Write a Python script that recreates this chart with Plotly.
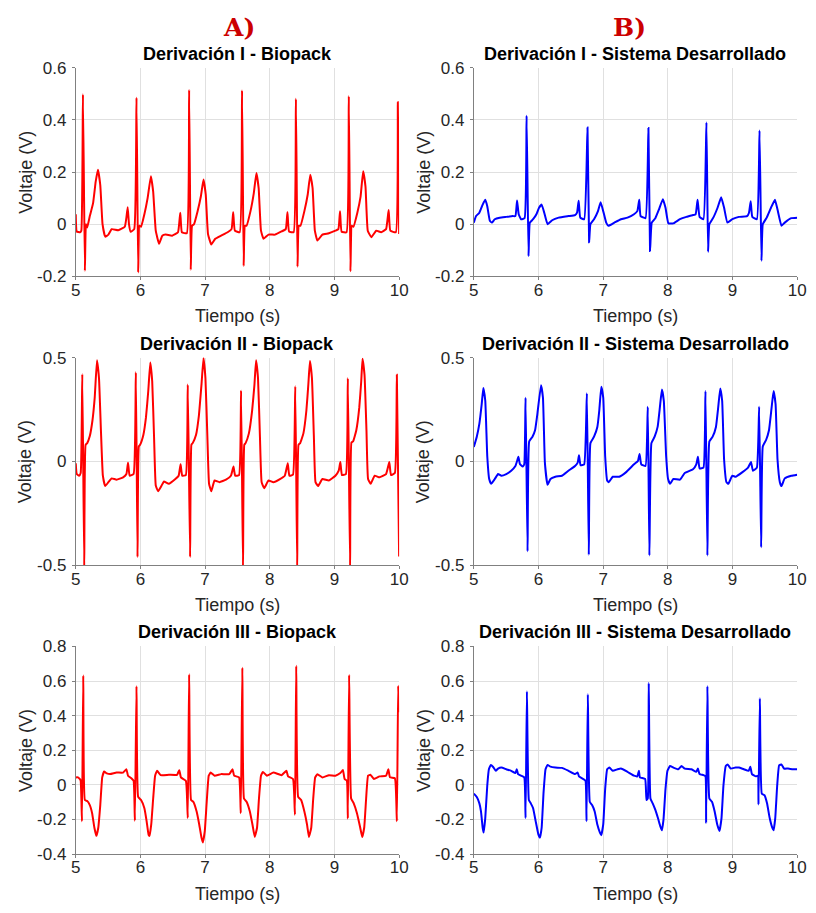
import plotly.graph_objects as go

# ECG leads, 5-10 s window: (time [s], voltage [V]) vertices of each trace
lead_I_biopack = [
    (5.000, 0.038), (5.015, -0.028), (5.066, -0.031), (5.086, -0.025), (5.111, 0.498), (5.141, -0.179),
    (5.157, 0.000), (5.177, -0.013), (5.217, 0.031), (5.268, 0.081), (5.308, 0.163), (5.343, 0.209),
    (5.379, 0.150), (5.414, 0.000), (5.455, -0.048), (5.505, -0.040), (5.556, -0.019), (5.657, -0.023),
    (5.758, -0.010), (5.783, 0.025), (5.803, 0.065), (5.823, 0.000), (5.848, -0.029), (5.904, -0.019),
    (5.939, 0.485), (5.965, -0.185), (5.985, -0.006), (6.010, -0.010), (6.061, 0.038), (6.111, 0.100),
    (6.162, 0.184), (6.197, 0.125), (6.237, -0.025), (6.288, -0.075), (6.338, -0.044), (6.389, -0.040),
    (6.490, -0.044), (6.581, -0.031), (6.616, 0.044), (6.641, -0.031), (6.717, -0.035),
    (6.753, 0.515), (6.778, -0.175), (6.798, -0.006), (6.828, 0.000), (6.884, 0.050), (6.934, 0.106),
    (6.975, 0.171), (7.010, 0.113), (7.045, -0.038), (7.096, -0.078), (7.157, -0.056), (7.247, -0.044),
    (7.348, -0.031), (7.409, -0.019), (7.434, 0.046), (7.460, -0.025), (7.535, -0.031),
    (7.571, 0.513), (7.596, -0.160), (7.616, -0.006), (7.641, -0.006), (7.702, 0.050), (7.753, 0.119),
    (7.793, 0.196), (7.828, 0.138), (7.864, -0.025), (7.904, -0.056), (7.980, -0.040), (8.081, -0.040),
    (8.182, -0.028), (8.247, -0.019), (8.273, 0.046), (8.298, -0.028), (8.369, -0.031),
    (8.404, 0.481), (8.429, -0.163), (8.449, -0.006), (8.475, -0.006), (8.535, 0.050), (8.586, 0.113),
    (8.626, 0.190), (8.662, 0.138), (8.697, -0.025), (8.737, -0.063), (8.813, -0.040), (8.914, -0.035),
    (9.015, -0.025), (9.061, -0.019), (9.086, 0.050), (9.111, -0.029), (9.187, -0.031),
    (9.222, 0.491), (9.247, -0.181), (9.268, -0.006), (9.293, -0.010), (9.354, 0.044), (9.404, 0.106),
    (9.444, 0.203), (9.480, 0.144), (9.515, -0.025), (9.571, -0.050), (9.646, -0.025), (9.722, -0.031),
    (9.798, -0.019), (9.838, 0.054), (9.864, -0.025), (9.949, -0.031),
    (9.980, 0.468), (10.000, -0.038),
]

lead_I_sistema = [
    (5.000, 0.006), (5.035, 0.031), (5.086, 0.044), (5.137, 0.075), (5.177, 0.094), (5.208, 0.069),
    (5.248, 0.013), (5.279, 0.006), (5.324, 0.019), (5.400, 0.025), (5.502, 0.028), (5.603, 0.031),
    (5.643, 0.031), (5.669, 0.091), (5.694, 0.038), (5.730, 0.019), (5.785, 0.023),
    (5.816, 0.416), (5.846, -0.123), (5.866, 0.006), (5.917, 0.019), (5.968, 0.038), (6.008, 0.063),
    (6.049, 0.075), (6.089, 0.044), (6.140, 0.000), (6.211, 0.015), (6.312, 0.025), (6.464, 0.031),
    (6.565, 0.035), (6.596, 0.044), (6.621, 0.090), (6.646, 0.025), (6.707, 0.019),
    (6.758, 0.371), (6.783, -0.069), (6.803, 0.000), (6.859, 0.019), (6.920, 0.050), (6.961, 0.084),
    (7.001, 0.050), (7.047, 0.006), (7.082, -0.006), (7.173, 0.006), (7.275, 0.019), (7.376, 0.025),
    (7.477, 0.038), (7.528, 0.050), (7.558, 0.094), (7.579, 0.031), (7.655, 0.023),
    (7.700, 0.369), (7.725, -0.103), (7.751, 0.006), (7.807, 0.023), (7.862, 0.056), (7.923, 0.096),
    (7.964, 0.063), (8.009, 0.003), (8.085, 0.003), (8.187, 0.019), (8.288, 0.028), (8.389, 0.035),
    (8.430, 0.038), (8.460, 0.094), (8.491, 0.028), (8.551, 0.019),
    (8.597, 0.390), (8.622, -0.106), (8.642, 0.000), (8.703, 0.025), (8.769, 0.063), (8.825, 0.103),
    (8.870, 0.063), (8.921, 0.006), (8.997, 0.019), (9.098, 0.028), (9.225, 0.031), (9.255, 0.044),
    (9.281, 0.088), (9.306, 0.028), (9.377, 0.019),
    (9.418, 0.359), (9.448, -0.140), (9.468, 0.000), (9.529, 0.025), (9.595, 0.063), (9.656, 0.094),
    (9.696, 0.056), (9.757, -0.006), (9.808, 0.006), (9.909, 0.023), (10.000, 0.025),
]

lead_II_biopack = [
    (5.000, -0.009), (5.015, -0.061), (5.051, -0.069), (5.076, -0.056), (5.101, 0.420), (5.131, -0.510),
    (5.152, 0.080), (5.177, 0.088), (5.217, 0.122), (5.258, 0.197), (5.293, 0.307), (5.328, 0.487),
    (5.359, 0.401), (5.389, 0.150), (5.419, -0.069), (5.455, -0.119), (5.505, -0.100), (5.556, -0.082),
    (5.631, -0.088), (5.732, -0.077), (5.783, -0.061), (5.808, -0.006), (5.833, -0.069), (5.894, -0.061),
    (5.929, 0.429), (5.955, -0.461), (5.975, 0.072), (5.995, 0.080), (6.045, 0.127), (6.086, 0.213),
    (6.121, 0.339), (6.152, 0.476), (6.182, 0.386), (6.212, 0.103), (6.237, -0.116), (6.273, -0.144),
    (6.328, -0.116), (6.364, -0.097), (6.439, -0.108), (6.540, -0.085), (6.591, -0.069), (6.621, -0.014),
    (6.646, -0.069), (6.702, -0.066),
    (6.732, 0.370), (6.768, -0.461), (6.788, 0.080), (6.808, 0.088), (6.859, 0.127), (6.904, 0.221),
    (6.944, 0.370), (6.975, 0.498), (7.005, 0.401), (7.035, 0.119), (7.061, -0.108), (7.096, -0.144),
    (7.146, -0.092), (7.222, -0.100), (7.323, -0.088), (7.399, -0.069), (7.439, -0.025), (7.465, -0.069),
    (7.525, -0.066),
    (7.556, 0.342), (7.586, -0.520), (7.606, 0.080), (7.626, 0.088), (7.677, 0.135), (7.727, 0.245),
    (7.763, 0.370), (7.788, 0.487), (7.818, 0.401), (7.848, 0.119), (7.874, -0.100), (7.914, -0.129),
    (7.980, -0.092), (8.056, -0.100), (8.157, -0.085), (8.232, -0.069), (8.278, -0.009), (8.303, -0.069),
    (8.359, -0.064),
    (8.394, 0.362), (8.424, -0.520), (8.444, 0.080), (8.470, 0.088), (8.520, 0.135), (8.566, 0.245),
    (8.596, 0.370), (8.621, 0.483), (8.652, 0.401), (8.682, 0.119), (8.707, -0.100), (8.747, -0.119),
    (8.813, -0.085), (8.914, -0.092), (9.015, -0.069), (9.066, -0.045), (9.091, -0.003), (9.116, -0.066),
    (9.177, -0.061),
    (9.207, 0.401), (9.242, -0.520), (9.263, 0.091), (9.288, 0.096), (9.338, 0.150), (9.384, 0.260),
    (9.414, 0.386), (9.434, 0.495), (9.465, 0.417), (9.495, 0.150), (9.520, -0.085), (9.561, -0.108),
    (9.621, -0.069), (9.697, -0.077), (9.798, -0.061), (9.848, -0.003), (9.874, -0.066), (9.934, -0.056),
    (9.965, 0.417), (10.000, -0.458),
]

lead_II_sistema = [
    (5.000, 0.069), (5.046, 0.119), (5.086, 0.182), (5.122, 0.276), (5.147, 0.354), (5.177, 0.292),
    (5.208, 0.025), (5.238, -0.085), (5.268, -0.108), (5.324, -0.085), (5.375, -0.061), (5.426, -0.069),
    (5.502, -0.061), (5.578, -0.045), (5.643, -0.022), (5.669, 0.002), (5.689, 0.022), (5.714, -0.014),
    (5.755, -0.025), (5.780, -0.014),
    (5.800, 0.307), (5.831, -0.433), (5.856, 0.096), (5.907, 0.119), (5.947, 0.150), (5.983, 0.229),
    (6.039, 0.367), (6.069, 0.307), (6.099, -0.006), (6.140, -0.113), (6.185, -0.085), (6.261, -0.074),
    (6.363, -0.069), (6.464, -0.045), (6.565, -0.022), (6.606, -0.006), (6.626, 0.030), (6.651, -0.019),
    (6.707, -0.014),
    (6.748, 0.328), (6.778, -0.450), (6.803, 0.088), (6.859, 0.119), (6.910, 0.166), (6.940, 0.245),
    (6.971, 0.359), (7.001, 0.307), (7.031, 0.025), (7.062, -0.092), (7.087, -0.100), (7.148, -0.074),
    (7.249, -0.074), (7.351, -0.053), (7.477, -0.014), (7.538, 0.002), (7.563, 0.036), (7.589, -0.014),
    (7.655, -0.022),
    (7.690, 0.263), (7.715, -0.453), (7.746, 0.088), (7.796, 0.119), (7.842, 0.166), (7.877, 0.260),
    (7.908, 0.346), (7.938, 0.292), (7.974, 0.025), (8.004, -0.085), (8.034, -0.108), (8.085, -0.085),
    (8.187, -0.088), (8.262, -0.056), (8.389, -0.038), (8.440, -0.014), (8.465, 0.022), (8.491, -0.034),
    (8.551, -0.030),
    (8.582, 0.339), (8.612, -0.453), (8.642, 0.096), (8.693, 0.119), (8.744, 0.166), (8.779, 0.260),
    (8.810, 0.351), (8.840, 0.292), (8.870, 0.009), (8.906, -0.100), (8.936, -0.108), (8.997, -0.069),
    (9.048, -0.074), (9.149, -0.053), (9.240, -0.030), (9.286, -0.003), (9.316, -0.045), (9.377, -0.030),
    (9.412, 0.263), (9.443, -0.414), (9.468, 0.072), (9.519, 0.103), (9.564, 0.150), (9.605, 0.260),
    (9.635, 0.339), (9.666, 0.276), (9.696, 0.009), (9.732, -0.100), (9.757, -0.119), (9.808, -0.082),
    (9.909, -0.069), (10.000, -0.064),
]

lead_III_biopack = [
    (5.000, 0.043), (5.035, 0.043), (5.061, 0.034), (5.076, 0.024), (5.096, -0.211),
    (5.116, 0.632), (5.141, -0.088), (5.177, -0.094), (5.217, -0.117), (5.253, -0.164), (5.288, -0.248),
    (5.318, -0.295), (5.348, -0.248), (5.379, -0.117), (5.409, 0.043), (5.439, 0.077), (5.480, 0.066),
    (5.530, 0.062), (5.631, 0.071), (5.732, 0.071), (5.783, 0.090), (5.808, 0.053), (5.859, 0.038),
    (5.894, 0.024), (5.914, -0.207),
    (5.939, 0.570), (5.965, -0.070), (6.010, -0.088), (6.061, -0.135), (6.096, -0.211), (6.126, -0.289),
    (6.141, -0.295), (6.167, -0.229), (6.197, -0.079), (6.227, 0.053), (6.258, 0.081), (6.313, 0.056),
    (6.439, 0.058), (6.566, 0.058), (6.601, 0.085), (6.626, 0.043), (6.702, 0.024), (6.732, -0.192),
    (6.753, 0.639), (6.783, -0.088), (6.818, -0.098), (6.869, -0.154), (6.909, -0.229), (6.944, -0.305),
    (6.965, -0.333), (6.995, -0.267), (7.025, -0.098), (7.056, 0.053), (7.086, 0.071), (7.146, 0.053),
    (7.247, 0.062), (7.374, 0.062), (7.424, 0.090), (7.449, 0.053), (7.525, 0.043), (7.551, -0.164),
    (7.576, 0.677), (7.601, -0.079), (7.641, -0.098), (7.692, -0.154), (7.732, -0.229), (7.768, -0.301),
    (7.803, -0.248), (7.833, -0.079), (7.864, 0.053), (7.894, 0.075), (7.955, 0.053), (8.056, 0.071),
    (8.182, 0.056), (8.258, 0.081), (8.283, 0.049), (8.359, 0.034), (8.389, -0.173),
    (8.409, 0.688), (8.439, -0.070), (8.485, -0.088), (8.535, -0.154), (8.576, -0.229), (8.606, -0.301),
    (8.641, -0.248), (8.672, -0.079), (8.702, 0.043), (8.737, 0.062), (8.813, 0.043), (8.914, 0.056),
    (9.015, 0.053), (9.091, 0.068), (9.131, 0.086), (9.157, 0.034), (9.192, 0.024), (9.207, -0.195),
    (9.227, 0.635), (9.258, -0.079), (9.298, -0.107), (9.348, -0.164), (9.394, -0.239), (9.429, -0.301),
    (9.460, -0.248), (9.490, -0.079), (9.520, 0.053), (9.556, 0.058), (9.611, 0.034), (9.697, 0.049),
    (9.798, 0.053), (9.833, 0.090), (9.859, 0.043), (9.934, 0.038), (9.965, -0.211),
    (9.985, 0.573), (10.000, 0.419),
]

lead_III_sistema = [
    (5.000, -0.051), (5.046, -0.070), (5.086, -0.107), (5.111, -0.154), (5.137, -0.248), (5.152, -0.276),
    (5.177, -0.192), (5.208, -0.004), (5.233, 0.090), (5.263, 0.115), (5.299, 0.103), (5.339, 0.081),
    (5.375, 0.094), (5.426, 0.100), (5.502, 0.090), (5.578, 0.081), (5.643, 0.068), (5.664, 0.090),
    (5.684, 0.062), (5.730, 0.053), (5.780, 0.043), (5.800, -0.192),
    (5.821, 0.541), (5.851, -0.088), (5.881, -0.107), (5.917, -0.135), (5.957, -0.211), (5.998, -0.286),
    (6.023, -0.305), (6.049, -0.248), (6.079, -0.041), (6.109, 0.090), (6.140, 0.115), (6.185, 0.105),
    (6.261, 0.100), (6.363, 0.098), (6.464, 0.081), (6.565, 0.062), (6.606, 0.071), (6.626, 0.049),
    (6.692, 0.034), (6.727, 0.024), (6.743, -0.211),
    (6.763, 0.523), (6.793, -0.098), (6.829, -0.117), (6.869, -0.154), (6.910, -0.229), (6.950, -0.276),
    (6.971, -0.291), (7.001, -0.229), (7.031, -0.023), (7.062, 0.090), (7.097, 0.100), (7.148, 0.081),
    (7.224, 0.090), (7.275, 0.094), (7.376, 0.075), (7.477, 0.053), (7.528, 0.049), (7.553, 0.081),
    (7.568, 0.043), (7.649, 0.034), (7.670, -0.088), (7.690, -0.079),
    (7.705, 0.588), (7.731, -0.079), (7.766, -0.107), (7.807, -0.145), (7.847, -0.192), (7.883, -0.239),
    (7.908, -0.263), (7.933, -0.201), (7.964, -0.023), (7.994, 0.081), (8.034, 0.109), (8.085, 0.100),
    (8.161, 0.090), (8.212, 0.109), (8.262, 0.094), (8.364, 0.090), (8.440, 0.075), (8.465, 0.094),
    (8.491, 0.062), (8.551, 0.056), (8.582, 0.049), (8.592, -0.220),
    (8.612, 0.570), (8.642, -0.079), (8.683, -0.098), (8.724, -0.154), (8.764, -0.229), (8.799, -0.267),
    (8.830, -0.192), (8.860, -0.004), (8.896, 0.109), (8.926, 0.118), (8.972, 0.094), (9.048, 0.100),
    (9.098, 0.100), (9.174, 0.090), (9.250, 0.081), (9.276, 0.105), (9.301, 0.062), (9.362, 0.049),
    (9.392, 0.053), (9.402, -0.113),
    (9.423, 0.500), (9.453, -0.051), (9.494, -0.060), (9.534, -0.107), (9.575, -0.192), (9.615, -0.248),
    (9.635, -0.263), (9.661, -0.192), (9.691, -0.004), (9.721, 0.113), (9.757, 0.118), (9.797, 0.094),
    (9.858, 0.094), (9.934, 0.090), (10.000, 0.090),
]

# Axis ticks
x_ticks = [5, 6, 7, 8, 9, 10]
y_ticks_I = [-0.2, 0, 0.2, 0.4, 0.6]
y_ticks_II = [-0.5, 0, 0.5]
y_ticks_III = [-0.4, -0.2, 0, 0.2, 0.4, 0.6, 0.8]

RED = "#ff0000"
BLUE = "#0000ff"
FONT = "Liberation Sans, Arial, Helvetica, sans-serif"
TICK_COLOR = "#262626"
GRID_COLOR = "#e0e0e0"
AXIS_COLOR = "#808080"

W, H = 816, 913
col_px = [(72, 401), (477, 806)]
row_px = [(60, 273), (356, 568), (651, 863)]


def xdom(c):
    a, b = col_px[c]
    return [a / W, b / W]


def ydom(r):
    a, b = row_px[r]
    return [1 - b / H, 1 - a / H]


panels = [
    (lead_I_biopack, "Derivación I - Biopack", RED, 0, 0, y_ticks_I),
    (lead_I_sistema, "Derivación I - Sistema Desarrollado", BLUE, 0, 1, y_ticks_I),
    (lead_II_biopack, "Derivación II - Biopack", RED, 1, 0, y_ticks_II),
    (lead_II_sistema, "Derivación II - Sistema Desarrollado", BLUE, 1, 1, y_ticks_II),
    (lead_III_biopack, "Derivación III - Biopack", RED, 2, 0, y_ticks_III),
    (lead_III_sistema, "Derivación III - Sistema Desarrollado", BLUE, 2, 1, y_ticks_III),
]

fig = go.Figure()
layout = dict(
    width=W, height=H, autosize=False,
    margin=dict(l=0, r=0, t=0, b=0),
    paper_bgcolor="white", plot_bgcolor="white",
    showlegend=False,
    font=dict(family=FONT, color=TICK_COLOR, size=17),
)
annotations = []

for i, (pts, title, color, r, c, yt) in enumerate(panels, start=1):
    t = [p[0] for p in pts]
    v = [p[1] for p in pts]
    xa = "x" if i == 1 else f"x{i}"
    ya = "y" if i == 1 else f"y{i}"
    fig.add_trace(go.Scatter(
        x=t, y=v, mode="lines", xaxis=xa, yaxis=ya,
        line=dict(color=color, width=2, shape="spline", smoothing=0.35),
        hoverinfo="skip",
    ))
    common = dict(
        showline=True, linecolor=AXIS_COLOR, linewidth=1,
        showgrid=True, gridcolor=GRID_COLOR, gridwidth=1,
        zeroline=False, ticks="outside", ticklen=3, tickcolor=AXIS_COLOR,
        tickfont=dict(family=FONT, size=17, color=TICK_COLOR),
        fixedrange=True,
    )
    layout[f"xaxis{'' if i == 1 else i}"] = dict(
        common, domain=xdom(c), anchor=ya, range=[5, 10],
        tickvals=x_ticks, ticktext=[str(x) for x in x_ticks],
        ticklabelstandoff=-5,
    )
    layout[f"yaxis{'' if i == 1 else i}"] = dict(
        common, domain=ydom(r), anchor=xa, range=[yt[0], yt[-1]],
        tickvals=yt, ticktext=[f"{y:g}" for y in yt],
        ticklabelstandoff=2,
    )
    xd, yd = xdom(c), ydom(r)
    xc = (xd[0] + xd[1]) / 2
    yc = (yd[0] + yd[1]) / 2
    annotations.append(dict(
        text=title, x=xc, y=yd[1], xref="paper", yref="paper",
        xanchor="center", yanchor="bottom", yshift=3, borderpad=0, showarrow=False,
        font=dict(family=FONT, size=18, color="black", weight="bold"),
    ))
    annotations.append(dict(
        text="Tiempo (s)", x=xc, y=yd[0], xref="paper", yref="paper",
        xanchor="center", yanchor="middle", yshift=-40, showarrow=False,
        font=dict(family=FONT, size=18, color=TICK_COLOR),
    ))
    annotations.append(dict(
        text="Voltaje (V)", x=xd[0], y=yc, xref="paper", yref="paper",
        xanchor="center", yanchor="middle", xshift=-50, textangle=-90,
        showarrow=False, font=dict(family=FONT, size=18, color=TICK_COLOR),
    ))

# Column headers
for label, xpix in (("A)", 238), ("B)", 635)):
    annotations.append(dict(
        text=label, x=xpix / W, y=1 - 19 / H, xref="paper", yref="paper",
        xanchor="center", yanchor="middle", borderpad=0, showarrow=False,
        font=dict(family="DejaVu Serif, Liberation Serif, serif", size=25,
                  color="#cc0000", weight="bold"),
    ))

layout["annotations"] = annotations
fig.update_layout(**layout)
fig.write_html("out.html")
